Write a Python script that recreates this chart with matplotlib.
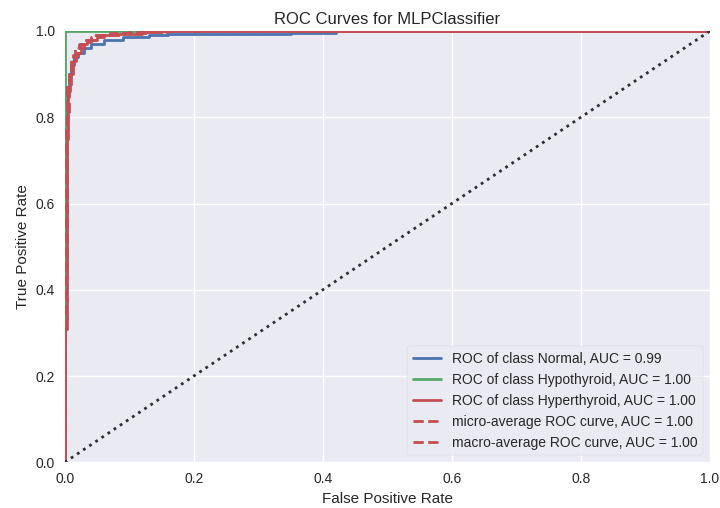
import matplotlib
matplotlib.use("Agg")
import matplotlib.pyplot as plt

# ROC points
normal_fpr = [0, 0, 0.002, 0.002, 0.004, 0.004, 0.006, 0.006, 0.01, 0.01, 0.015, 0.015, 0.02, 0.02,
              0.03, 0.03, 0.04, 0.04, 0.06, 0.06, 0.09, 0.09, 0.13, 0.13, 0.16, 0.16, 0.35, 0.35,
              0.42, 0.42, 1.0]
normal_tpr = [0, 0.60, 0.60, 0.80, 0.80, 0.87, 0.87, 0.90, 0.90, 0.92, 0.92, 0.94, 0.94, 0.95,
              0.95, 0.96, 0.96, 0.97, 0.97, 0.98, 0.98, 0.985, 0.985, 0.99, 0.99, 0.993, 0.993,
              0.996, 0.996, 1.0, 1.0]

hypo_fpr = [0, 0, 1.0]
hypo_tpr = [0, 1.0, 1.0]

hyper_fpr = [0, 0, 0.003, 0.003, 0.005, 0.005, 0.008, 0.008, 0.012, 0.012, 0.018, 0.018,
             0.025, 0.025, 0.035, 0.035, 0.05, 0.05, 0.08, 0.08, 0.12, 0.12, 0.15, 0.15, 1.0]
hyper_tpr = [0, 0.31, 0.31, 0.75, 0.75, 0.86, 0.86, 0.90, 0.90, 0.93, 0.93, 0.95, 0.95, 0.97,
             0.97, 0.98, 0.98, 0.99, 0.99, 0.994, 0.994, 0.997, 0.997, 1.0, 1.0]

micro_fpr = [0, 0, 0.002, 0.002, 0.004, 0.004, 0.007, 0.007, 0.01, 0.01, 0.016, 0.016, 0.022,
             0.022, 0.03, 0.03, 0.045, 0.045, 0.07, 0.07, 0.1, 0.1, 0.14, 0.14, 1.0]
micro_tpr = [0, 0.41, 0.41, 0.78, 0.78, 0.88, 0.88, 0.91, 0.91, 0.94, 0.94, 0.96, 0.96, 0.97,
             0.97, 0.98, 0.98, 0.99, 0.99, 0.995, 0.995, 0.998, 0.998, 1.0, 1.0]

macro_fpr = [0, 0, 0.003, 0.003, 0.006, 0.006, 0.009, 0.009, 0.013, 0.013, 0.02, 0.02, 0.03,
             0.03, 0.04, 0.04, 0.06, 0.06, 0.09, 0.09, 0.13, 0.13, 0.16, 0.16, 1.0]
macro_tpr = [0, 0.45, 0.45, 0.80, 0.80, 0.87, 0.87, 0.92, 0.92, 0.945, 0.945, 0.96, 0.96, 0.975,
             0.975, 0.985, 0.985, 0.99, 0.99, 0.995, 0.995, 0.998, 0.998, 1.0, 1.0]

labels = ["ROC of class Normal, AUC = 0.99",
          "ROC of class Hypothyroid, AUC = 1.00",
          "ROC of class Hyperthyroid, AUC = 1.00",
          "micro-average ROC curve, AUC = 1.00",
          "macro-average ROC curve, AUC = 1.00"]

plt.style.use("seaborn-v0_8")
plt.rcParams["font.family"] = ["Liberation Sans", "DejaVu Sans"]

fig, ax = plt.subplots(figsize=(7.2, 5.08), dpi=100)
fig.subplots_adjust(left=0.09, right=0.986, top=0.939, bottom=0.09)

ax.plot(normal_fpr, normal_tpr, color="#4C72B0", lw=2, label=labels[0])
ax.plot(hypo_fpr, hypo_tpr, color="#55A868", lw=2, label=labels[1])
ax.plot(hyper_fpr, hyper_tpr, color="#C44E52", lw=2, label=labels[2])
ax.plot(micro_fpr, micro_tpr, color="#C44E52", lw=2, ls="--", label=labels[3])
ax.plot(macro_fpr, macro_tpr, color="#C44E52", lw=2, ls="--", label=labels[4])
ax.plot([0, 1], [0, 1], ls=":", color="#2f2f2f", lw=2)

ax.set_xlim(0, 1)
ax.set_ylim(0, 1)
ax.set_title("ROC Curves for MLPClassifier", fontsize=12, pad=5)
ax.set_xlabel("False Positive Rate", fontsize=11)
ax.set_ylabel("True Positive Rate", fontsize=11)
ax.tick_params(labelsize=10)
ax.legend(loc="lower right", frameon=True, fontsize=10)

fig.savefig("out.png", dpi=100)
